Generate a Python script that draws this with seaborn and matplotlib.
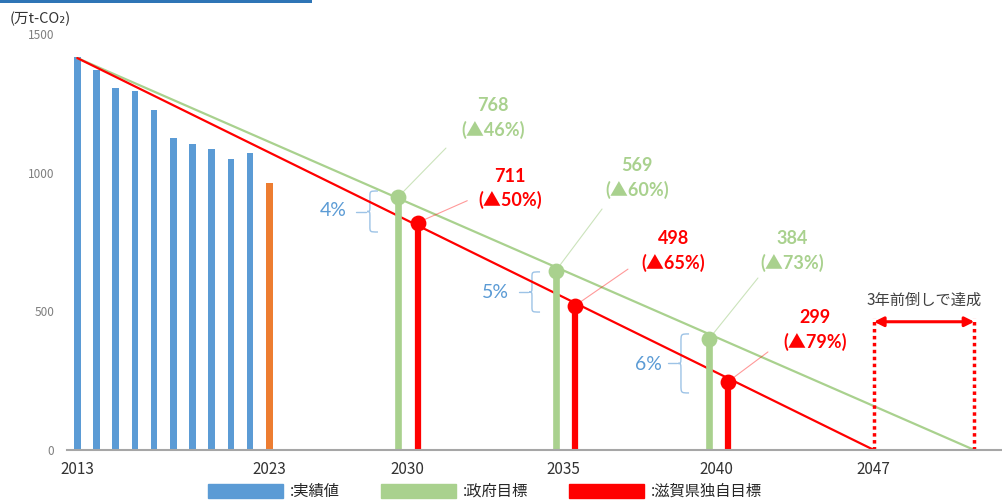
import pandas as pd
import matplotlib
matplotlib.use("Agg")
import matplotlib.pyplot as plt
import seaborn as sns
from matplotlib.patches import Patch, PathPatch, Rectangle
from matplotlib.path import Path

# x axis is a category axis of equal slots, slot 0 = 2013
actual_pos = list(range(11))
actual_val = [1418, 1372, 1308, 1296, 1227, 1125, 1104, 1087, 1049, 1071, 963]
actual_kind = ["実績"] * 10 + ["速報"]

tick_pos = [0, 10, 17.2, 25.3, 33.3, 41.45]
tick_labels = ["2013", "2023", "2030", "2035", "2040", "2047"]

gov_line_x = [0, 46.72]
gov_line_y = [1415, 0]
shiga_line_x = [0, 41.49]
shiga_line_y = [1415, 0]

gov_pos = [16.72, 24.92, 32.9]
gov_val = [914, 647, 401]
shiga_pos = [17.73, 25.92, 33.9]
shiga_val = [821, 521, 247]

gov_labels = ["768\n(▲46%)", "569\n(▲60%)", "384\n(▲73%)"]
shiga_labels = ["711\n(▲50%)", "498\n(▲65%)", "299\n(▲79%)"]
gap_labels = ["4%", "5%", "6%"]

# label layout (data coords)
gov_text_xy = [(21.65, 1197), (29.15, 982), (37.22, 720)]
gov_leader_end = [(19.2, 1090), (27.33, 870), (35.45, 621)]
shiga_text_xy = [(22.54, 944), (31.03, 717), (38.42, 433)]
shiga_leader_end = [(20.31, 900), (28.68, 653), (35.97, 354)]
brace_specs = [(15.24, 935, 787), (23.68, 643, 498), (31.44, 419, 206)]
gap_text_xy = [(13.32, 863), (21.8, 567), (29.73, 310)]

early_x = [41.49, 46.72]

BLUE = "#5B9BD5"
ORANGE = "#ED7D31"
GREEN = "#A9D18E"
RED = "#FF0000"
LBLUE = "#9DC3E6"

sns.set_style("white")
plt.rcParams["font.family"] = ["Noto Sans CJK JP", "DejaVu Sans"]
NUMFONT = ["Lato", "Noto Sans CJK JP", "DejaVu Sans"]

fig = plt.figure(figsize=(10.02, 5.01), dpi=100)
ax = fig.add_axes([67 / 1002, 51 / 501, 935 / 1002, 415.5 / 501])

df = pd.DataFrame({"pos": actual_pos, "val": actual_val, "kind": actual_kind})
sns.barplot(data=df, x="pos", y="val", hue="kind",
            palette={"実績": BLUE, "速報": ORANGE}, native_scale=True,
            width=0.35, dodge=False, legend=False, errorbar=None,
            saturation=1, linewidth=0, ax=ax, zorder=2)

sns.lineplot(x=gov_line_x, y=gov_line_y, color=GREEN, lw=1.6, ax=ax, zorder=3)
sns.lineplot(x=shiga_line_x, y=shiga_line_y, color=RED, lw=1.6, ax=ax, zorder=3)

ax.vlines(gov_pos, 0, gov_val, color=GREEN, lw=4.8, zorder=4)
ax.vlines(shiga_pos, 0, shiga_val, color=RED, lw=4.5, zorder=4)
sns.scatterplot(x=gov_pos, y=gov_val, color=GREEN, s=130, linewidth=0, ax=ax, zorder=5)
sns.scatterplot(x=shiga_pos, y=shiga_val, color=RED, s=130, linewidth=0, ax=ax, zorder=5)

# value labels with leader lines
for (x, y), (lx, ly), (tx, ty), lab in zip(zip(gov_pos, gov_val), gov_leader_end, gov_text_xy, gov_labels):
    ax.plot([x, lx], [y, ly], color=GREEN, lw=0.8, alpha=0.6, zorder=3)
    ax.text(tx, ty, lab, color=GREEN, fontsize=13, fontweight="bold", family=NUMFONT,
            ha="center", va="center", linespacing=1.45)
for (x, y), (lx, ly), (tx, ty), lab in zip(zip(shiga_pos, shiga_val), shiga_leader_end, shiga_text_xy, shiga_labels):
    ax.plot([x, lx], [y, ly], color=RED, lw=0.8, alpha=0.4, zorder=3)
    ax.text(tx, ty, lab, color=RED, fontsize=13, fontweight="bold", family=NUMFONT,
            ha="center", va="center", linespacing=1.45)


def draw_brace(ax, x, y_top, y_bot, w=0.42, tip=0.15, dash=0.55):
    ym = (y_top + y_bot) / 2
    r = (y_top - y_bot) * 0.14
    verts = [(x + w, y_top), (x, y_top), (x, y_top), (x, y_top - r),
             (x, ym + r),
             (x, ym), (x, ym), (x - tip, ym),
             (x, ym), (x, ym), (x, ym - r),
             (x, y_bot + r),
             (x, y_bot), (x, y_bot), (x + w, y_bot)]
    codes = [Path.MOVETO, Path.CURVE4, Path.CURVE4, Path.CURVE4,
             Path.LINETO,
             Path.CURVE4, Path.CURVE4, Path.CURVE4,
             Path.CURVE4, Path.CURVE4, Path.CURVE4,
             Path.LINETO,
             Path.CURVE4, Path.CURVE4, Path.CURVE4]
    ax.add_patch(PathPatch(Path(verts, codes), fill=False, edgecolor=LBLUE, lw=1))
    ax.plot([x - tip - 0.05, x - tip - dash], [ym, ym], color=LBLUE, lw=1)


for (bx, yt, yb), (tx, ty), lab in zip(brace_specs, gap_text_xy, gap_labels):
    draw_brace(ax, bx, yt, yb)
    ax.text(tx, ty, lab, color=BLUE, fontsize=14, family=NUMFONT, ha="center", va="center")

# 3 years ahead marker
ax.vlines(early_x, 0, 477, color=RED, lw=2.5, linestyles=(0, (1, 1)), zorder=4)
ax.annotate("", xy=(early_x[0], 463), xytext=(early_x[1], 463),
            arrowprops=dict(arrowstyle="<|-|>", color=RED, lw=2.2,
                            mutation_scale=14, shrinkA=0, shrinkB=0))
ax.text(sum(early_x) / 2, 542, "3年前倒しで達成", color="#404040", fontsize=11,
        ha="center", va="center")

ax.set_xlim(-0.536, 48.16)
ax.set_ylim(0, 1500)
ax.set_xticks(tick_pos, tick_labels)
ax.set_yticks([0, 500, 1000, 1500])
ax.tick_params(axis="x", length=0, pad=8, labelsize=11, labelcolor="#333333")
ax.tick_params(axis="y", length=0, pad=9, labelsize=8.5, labelcolor="#7F7F7F")
ax.set_xlabel("")
ax.set_ylabel("")
for side in ["top", "right", "left"]:
    ax.spines[side].set_visible(False)
ax.spines["bottom"].set_color("#A6A6A6")
ax.spines["bottom"].set_linewidth(1.5)
ax.spines["bottom"].set_zorder(6)

fig.text(10 / 1002, 1 - 19 / 501, "(万t-CO₂)", fontsize=10.5, color="#333333",
         va="center", ha="left")
fig.add_artist(Rectangle((0, 1 - 3 / 501), 312 / 1002, 3 / 501,
                         transform=fig.transFigure, color="#2E75B6", lw=0))

handles = [Patch(color=BLUE), Patch(color=GREEN), Patch(color=RED)]
fig.legend(handles, [":実績値", ":政府目標", ":滋賀県独自目標"], ncol=3,
           loc="center", bbox_to_anchor=(485 / 1002, 9.5 / 501), frameon=False,
           fontsize=11, handlelength=4.9, handleheight=1.0, handletextpad=0.45,
           columnspacing=2.7, borderpad=0)

fig.savefig("out.png", dpi=100)
